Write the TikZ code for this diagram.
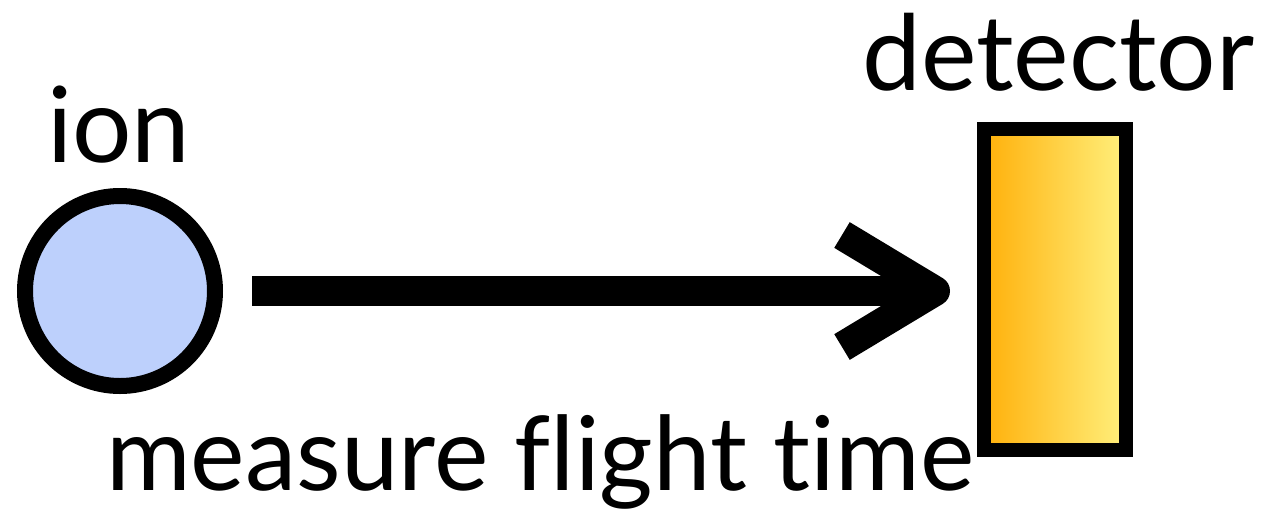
\documentclass[tikz,border=0pt]{standalone}
\usepackage{fontspec}
\setmainfont{Lato}[Ligatures=NoCommon]
\usetikzlibrary{calc}
\definecolor{ionblue}{RGB}{189,208,252}
\definecolor{detleft}{RGB}{255,176,10}
\definecolor{detright}{RGB}{255,240,125}
\tikzset{
  lbl/.style={anchor=base west,inner sep=0pt,font=\fontsize{105}{120}\selectfont},
  ionball/.style={circle,draw=black,line width=16pt,fill=ionblue,minimum size=190pt,inner sep=0pt},
  detbox/.style={rectangle,draw=black,line width=14pt,left color=detleft,right color=detright,minimum width=142pt,minimum height=321pt,inner sep=0pt},
  fat/.style={line width=30pt,line cap=butt,line join=round}
}
\begin{document}
\begin{tikzpicture}[x=1pt,y=-1pt]
\useasboundingbox (0,0) rectangle (1266,515);
\node[ionball] (ion) at (120,291) {};
\node[detbox] (det) at (1055,289.5) {};
\node[lbl] (ionlbl) at (47,162) {ion};
\node[lbl] (detlbl) at (862,90) {detector};
\node[lbl,font=\fontsize{103}{120}\selectfont] (meas) at (106,490) {measure flight time};
\path (det.west |- ion.center) ++(-42pt,0) coordinate (tip);
\draw[fat,shorten <=29pt] (ion) -- (tip);
\draw[fat] (tip) ++(-93,-56) -- (tip) -- ++(-93,56);
\end{tikzpicture}
\end{document}
